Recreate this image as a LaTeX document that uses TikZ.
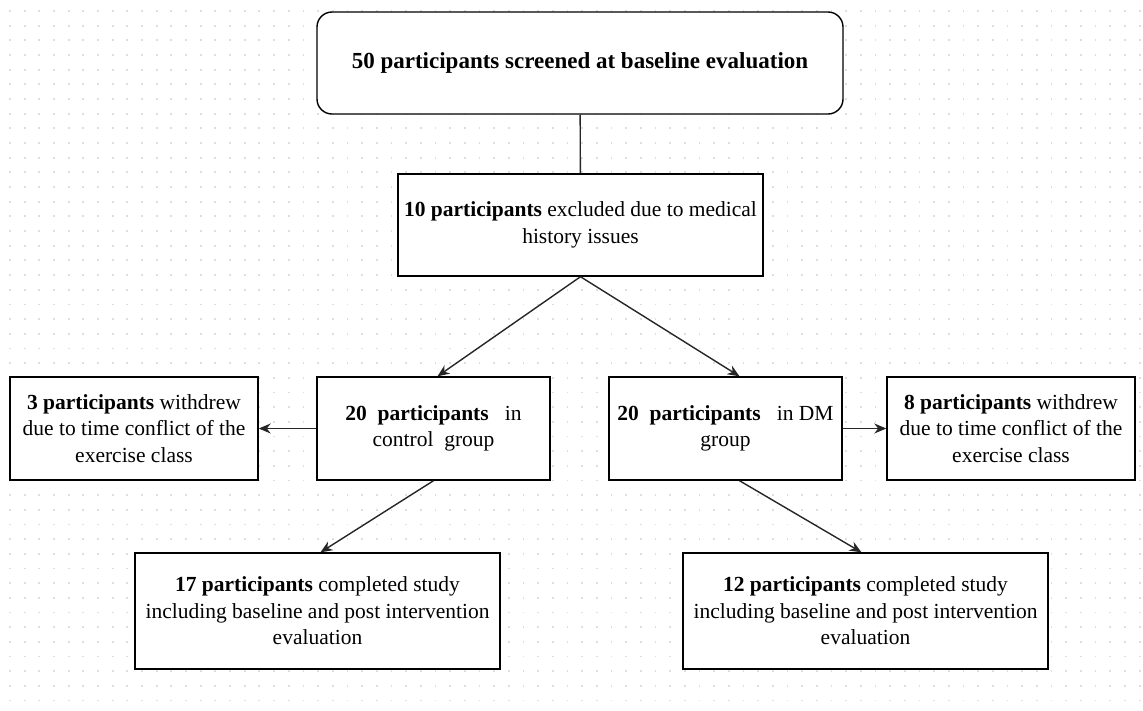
\documentclass[tikz,border=0pt]{standalone}
\usepackage{fontspec}
\setmainfont{Liberation Serif}
\usepackage{xcolor}
\usetikzlibrary{arrows.meta}

\begin{document}
\begin{tikzpicture}[
x=1pt,y=-1pt,
box/.style={rectangle, draw, line width=1.4pt, fill=white, align=center, inner sep=0pt, font=\fontsize{21.5}{26.5}\selectfont},
topbox/.style={box, rounded corners=15pt, font=\fontsize{23}{27}\selectfont},
link/.style={line width=1.4pt, black!85},
route/.style={->, >={Stealth[length=12pt,width=10pt]}, line width=1.4pt, black!85},
]
\useasboundingbox (0,0) rectangle (1143,710);

%draw dotted grid
\foreach \i in {0,1,...,77}
  \foreach \j in {0,1,...,47}
    \fill[black!13] ({10+\i*14.67-0.9},{11+\j*14.67-0.9}) rectangle ++(1.8,1.8);

%draw boxes
\node(screen)[topbox, minimum width=526, minimum height=102] at (580,63){\textbf{50 participants screened at baseline evaluation}};
\node(excl)[box, minimum width=365, minimum height=102] at (580.5,225){\textbf{10 participants} excluded due to medical\\history issues};
\node(ctrl)[box, minimum width=233, minimum height=103] at (433.5,428.5){\textbf{20\ \ participants}\hspace{0.75em}in\\control\ \ group};
\node(dm)[box, minimum width=233, minimum height=103] at (725.5,428.5){\textbf{20\ \ participants}\hspace{0.75em}in DM\\group};
\node(wl)[box, minimum width=248, minimum height=103] at (134,428.5){\textbf{3 participants} withdrew\\due to time conflict of the\\exercise class};
\node(wr)[box, minimum width=248, minimum height=103] at (1011,428.5){\textbf{8 participants} withdrew\\due to time conflict of the\\exercise class};
\node(cl)[box, minimum width=365, minimum height=116] at (317.5,611){\textbf{17 participants} completed study\\including baseline and post intervention\\evaluation};
\node(cr)[box, minimum width=365, minimum height=116] at (865.5,611){\textbf{12 participants} completed study\\including baseline and post intervention\\evaluation};

%draw connectors
\draw[link] (screen) -- (excl);
\draw[route] (excl.south) -- ([xshift=4]ctrl.north);
\draw[route] (excl.south) -- ([xshift=14]dm.north);
\draw[route] (ctrl) -- (wl);
\draw[route] (dm) -- (wr);
\draw[route] (ctrl.south) -- ([xshift=3]cl.north);
\draw[route] ([xshift=14]dm.south) -- ([xshift=-4]cr.north);

\end{tikzpicture}
\end{document}
